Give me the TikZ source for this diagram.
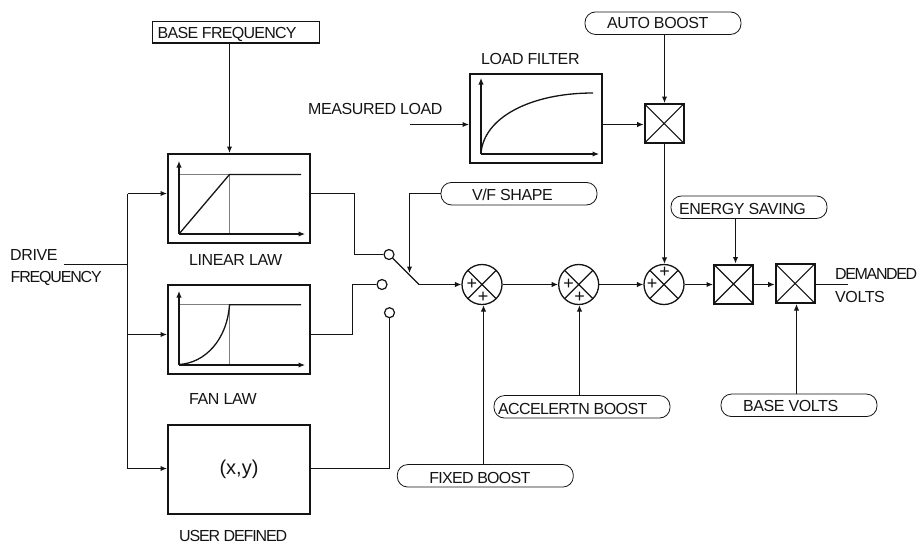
\documentclass[tikz,border=0pt]{standalone}
\usepackage{fontspec}
\setmainfont[LetterSpace=-2.5]{Liberation Sans}
\usetikzlibrary{arrows.meta,positioning}
\definecolor{ink}{gray}{0.08}
\tikzset{
  wire/.style={draw=ink,line width=1.2pt},
  arr/.style={wire,-{Latex[length=6.5pt,width=5.5pt]}},
  axis/.style={draw=ink,line width=1.2pt,-{Latex[length=6.5pt,width=5.5pt]}},
  guide/.style={draw=ink!55,line width=.7pt},
  curve/.style={draw=ink,line width=1.3pt},
  lawbox/.style={draw=ink,line width=2pt,inner sep=0pt},
  pill/.style={draw=ink,line width=.8pt,rounded corners=10.5pt,minimum height=22.5pt,inner sep=0pt,font=\fontsize{16}{18}\selectfont,text=ink},
  lab/.style={inner sep=0pt,anchor=base west,font=\fontsize{16}{18}\selectfont,text=ink},
  contact/.style={circle,draw=ink,line width=1.2pt,minimum size=10pt,inner sep=0pt},
  mult/.style={draw=ink,line width=2pt,minimum size=39pt,inner sep=0pt,
    path picture={\draw[draw=ink,line width=1.1pt] (path picture bounding box.north west)--(path picture bounding box.south east) (path picture bounding box.north east)--(path picture bounding box.south west);}},
  summer/.style={circle,draw=ink,line width=1.3pt,minimum size=40pt,inner sep=0pt,
    path picture={\draw[draw=ink,line width=1.2pt] (path picture bounding box.north west)--(path picture bounding box.south east) (path picture bounding box.north east)--(path picture bounding box.south west);}},
  plus/.style={inner sep=0pt,font=\fontsize{18}{18}\selectfont,text=ink},
}
\newcommand{\pilltxt}[4]{\raisebox{-#3}[0pt][0pt]{\makebox[#1][l]{\hspace{#2}#4}}}
\newcommand{\spc}[1]{\addfontfeature{LetterSpace=#1}}
\begin{document}
\begin{tikzpicture}[x=1pt,y=-1pt]
\useasboundingbox (0,0) rectangle (918,544);
% rails for off-centre connectors
\coordinate (xbase) at (229.5,0);
\coordinate (xauto) at (664.5,0);
\coordinate (xenergy) at (735.5,0);
\coordinate (xvolts) at (796.5,0);
\coordinate (xaccel) at (579.5,0);
\coordinate (xfixed) at (483.5,0);
\coordinate (xtrunk) at (127.5,0);
% sources
\node[draw=ink,line width=1.2pt,inner sep=0pt,minimum width=167pt,minimum height=21.5pt,font=\fontsize{16}{18}\selectfont,text=ink] (base) at (236.2,32.2) {\pilltxt{167pt}{5pt}{6.6pt}{\spc{-4.5}BASE FREQUENCY}};
\node[pill,minimum width=156pt] (auto) at (663,23.2) {\pilltxt{156pt}{22pt}{5.3pt}{AUTO BOOST}};
\node[pill,minimum width=156pt] (vf) at (519,193.7) {\pilltxt{156pt}{31pt}{6.8pt}{V/F SHAPE}};
\node[pill,minimum width=156pt] (energy) at (749,207.2) {\pilltxt{156pt}{8pt}{7.3pt}{ENERGY SAVING}};
\node[pill,minimum width=156pt] (volts) at (799,405.3) {\pilltxt{156pt}{22pt}{6.5pt}{BASE VOLTS}};
\node[pill,minimum width=176pt] (accel) at (582,406.8) {\pilltxt{176pt}{4pt}{7.4pt}{\spc{-3.7}ACCELERTN BOOST}};
\node[pill,minimum width=176pt] (fixed) at (485.3,475.8) {\pilltxt{176pt}{32pt}{7.2pt}{\spc{-4.5}FIXED BOOST}};
% law boxes
\node[lawbox,minimum width=142pt,minimum height=89pt] (lin) at (239,198.5) {};
\node[lawbox,minimum width=142pt,minimum height=89pt] (fan) at (239,329) {};
\node[lawbox,minimum width=142pt,minimum height=89pt,font=\fontsize{20}{22}\selectfont,text=ink] (user) at (239,469.5) {\addfontfeature{LetterSpace=0}(x,y)};
\node[lawbox,minimum width=132pt,minimum height=89pt] (filt) at (536,118.5) {};
% graphs
\draw[guide] (179,174.5) -- (229.5,174.5) -- (229.5,234);
\draw[axis] (179,234) -- (179,161);
\draw[axis] (179,234) -- (305,234);
\draw[curve] (179,234) -- (229.5,174.5) -- (301,174.5);
\draw[guide] (179,304.7) -- (229.5,304.7) -- (229.5,365);
\draw[axis] (179,365) -- (179,291);
\draw[axis] (179,365) -- (305,365);
\draw[curve] (179,364.5) .. controls (205,363) and (227,340) .. (229.5,304.7) -- (301,304.7);
\draw[axis] (481,154) -- (481,78);
\draw[axis] (481,154) -- (599,154);
\draw[curve] (481,154) .. controls (483,118) and (530,93) .. (593,93);
% switch
\node[contact] (c1) at (389,254.5) {};
\node[contact] (c2) at (382,284.5) {};
\node[contact] (c3) at (389.5,312.7) {};
\coordinate (pivot) at (419,284.5);
\coordinate (vftip) at (409.5,273);
% junctions
\node[summer] (s1) at (482,284.5) {};
\node[summer] (s2) at (578.7,284.5) {};
\node[summer] (s3) at (664,284.5) {};
\node[mult] (m1) at (664.2,123.5) {};
\node[mult] (m2) at (733.5,284) {};
\node[mult] (m3) at (795.2,283.5) {};
\node[plus] (p1a) at (472,284) {+};
\node[plus] (p1b) at (483,297.5) {+};
\node[plus] (p2a) at (568.7,284) {+};
\node[plus] (p2b) at (579.5,297.5) {+};
\node[plus] (p3a) at (664.7,272) {+};
\node[plus] (p3b) at (652,284) {+};
% labels
\node[lab] (ldrive) at (10,260) {DRIVE};
\node[lab] (lfreq) at (10.5,282.5) {\spc{-7.4}FREQUENCY};
\node[lab] (llin) at (189,265.5) {LINEAR LAW};
\node[lab] (lfan) at (189,404.7) {FAN LAW};
\node[lab] (luser) at (179,541.5) {\spc{-7}USER DEFINED};
\node[lab] (lmeas) at (308,114.5) {MEASURED LOAD};
\node[lab] (lfilt) at (481,64.3) {LOAD FILTER};
\node[lab] (ldem) at (835,279) {\spc{-8.5}DEMANDED};
\node[lab] (lvolts) at (835,302) {VOLTS};
\coordinate (drivein) at (64,264.5);
\coordinate (measin) at (410,124.5);
\coordinate (demout) at (848,284.5);
% connectors
\draw[arr] (base.south -| xbase) -- (lin.north -| xbase);
\draw[wire] (drivein) -- (drivein -| xtrunk);
\draw[wire] (xtrunk |- 0,193.5) -- (xtrunk |- 0,468.5);
\draw[arr] (xtrunk |- 0,193.5) -- (lin.west |- 0,193.5);
\draw[arr] (xtrunk |- 0,334.5) -- (fan.west |- 0,334.5);
\draw[arr] (xtrunk |- 0,468.5) -- (user.west |- 0,468.5);
\draw[wire] (lin.east |- 0,193.5) -- (354.5,193.5) -- (354.5,254.5) -- (c1.west);
\draw[wire] (fan.east |- 0,334.5) -- (352.5,334.5) -- (352.5,284.5) -- (c2.west);
\draw[wire] (user.east |- 0,468.5) -- (389.5,468.5) -- (c3.south);
\draw[wire] (c1.south east) -- (pivot);
\draw[arr] (pivot) -- (s1.west);
\draw[arr] (vf.west) -- (vf.west -| vftip) -- (vftip);
\draw[arr] (measin) -- (filt.west |- measin);
\draw[arr] (filt.east |- measin) -- (m1.west |- measin);
\draw[arr] (auto.south -| xauto) -- (m1.north -| xauto);
\draw[arr] (m1.south -| xauto) -- (s3.north -| xauto);
\draw[arr] (s1.east) -- (s2.west);
\draw[arr] (s2.east) -- (s3.west);
\draw[arr] (s3.east) -- (m2.west |- s3.east);
\draw[arr] (m2.east |- s3.east) -- (m3.west |- s3.east);
\draw[wire] (m3.east |- demout) -- (demout);
\draw[arr] (energy.south -| xenergy) -- (m2.north -| xenergy);
\draw[arr] (volts.north -| xvolts) -- (m3.south -| xvolts);
\draw[arr] (accel.north -| xaccel) -- (s2.south -| xaccel);
\draw[arr] (fixed.north -| xfixed) -- (s1.south -| xfixed);
\end{tikzpicture}
\end{document}
